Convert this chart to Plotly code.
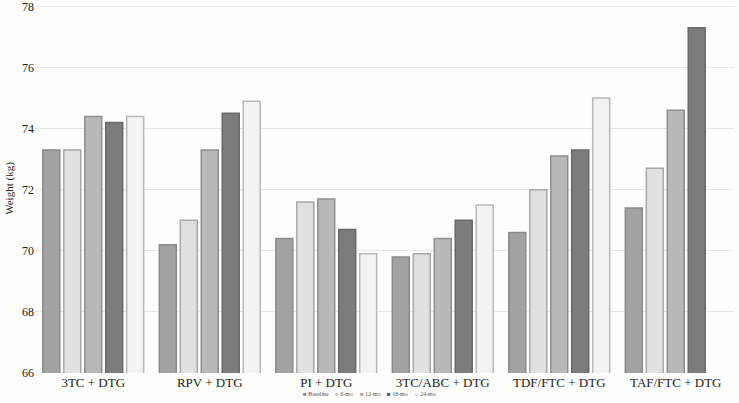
import plotly.graph_objects as go

categories = ["3TC + DTG", "RPV + DTG", "PI + DTG", "3TC/ABC + DTG", "TDF/FTC + DTG", "TAF/FTC + DTG"]
series_names = ["Baseline", "6-mo", "12-mo", "18-mo", "24-mo"]
baseline = [73.3, 70.2, 70.4, 69.8, 70.6, 71.4]
mo6 = [73.3, 71.0, 71.6, 69.9, 72.0, 72.7]
mo12 = [74.4, 73.3, 71.7, 70.4, 73.1, 74.6]
mo18 = [74.2, 74.5, 70.7, 71.0, 73.3, 77.3]
mo24 = [74.4, 74.9, 69.9, 71.5, 75.0, None]
y_ticks = [66, 68, 70, 72, 74, 76, 78]

series = [baseline, mo6, mo12, mo18, mo24]
colors = ["#a2a2a2", "#e0e0de", "#b8b8b6", "#7c7c7c", "#f3f3f1"]
lines = ["#8a8a8a", "#a8a8a8", "#8f8f8f", "#6a6a6a", "#b8b8b8"]
legend_colors = ["#8a8a8a", "#cfcfcf", "#a8a8a8", "#555555", "#e4e4e4"]

font = "Liberation Serif"

fig = go.Figure()
for name, vals, c, lc in zip(series_names, series, colors, lines):
    fig.add_trace(go.Bar(
        x=categories, y=vals, name=name,
        marker=dict(color=c, line=dict(color=lc, width=1.5)),
        showlegend=False,
    ))

# compact legend at the bottom, drawn as annotations
legend_x = [0.381, 0.426, 0.462, 0.501, 0.541]
for name, lc, x in zip(series_names, legend_colors, legend_x):
    fig.add_annotation(
        text=f"<span style='color:{lc}'>■</span> {name}",
        xref="paper", yref="paper", x=x, y=-0.057, xanchor="left", yanchor="middle",
        showarrow=False, font=dict(size=6, family=font, color="#555"),
    )

fig.update_layout(
    barmode="group", bargap=0.1, bargroupgap=0.19,
    width=739, height=403,
    margin=dict(l=35, r=5, t=4, b=30),
    paper_bgcolor="#fdfdfb", plot_bgcolor="#fdfdfb",
    font=dict(family=font, size=12, color="#222"),
    showlegend=False,
    xaxis=dict(showgrid=False, ticks="", tickfont=dict(size=13, family=font, color="#222"),
               showline=False, automargin=False),
    yaxis=dict(range=[66, 78.08], tickvals=y_ticks, showgrid=True, gridcolor="#e8e8e6",
               gridwidth=1, zeroline=False, ticks="", automargin=False,
               ticklabeloverflow="allow",
               tickfont=dict(size=12, family=font, color="#222"),
               title=dict(text="Weight (kg)", font=dict(size=11, family=font), standoff=6)),
)
fig.write_html("out.html", config={"displayModeBar": False},
               post_script="document.body.style.margin='0';")
